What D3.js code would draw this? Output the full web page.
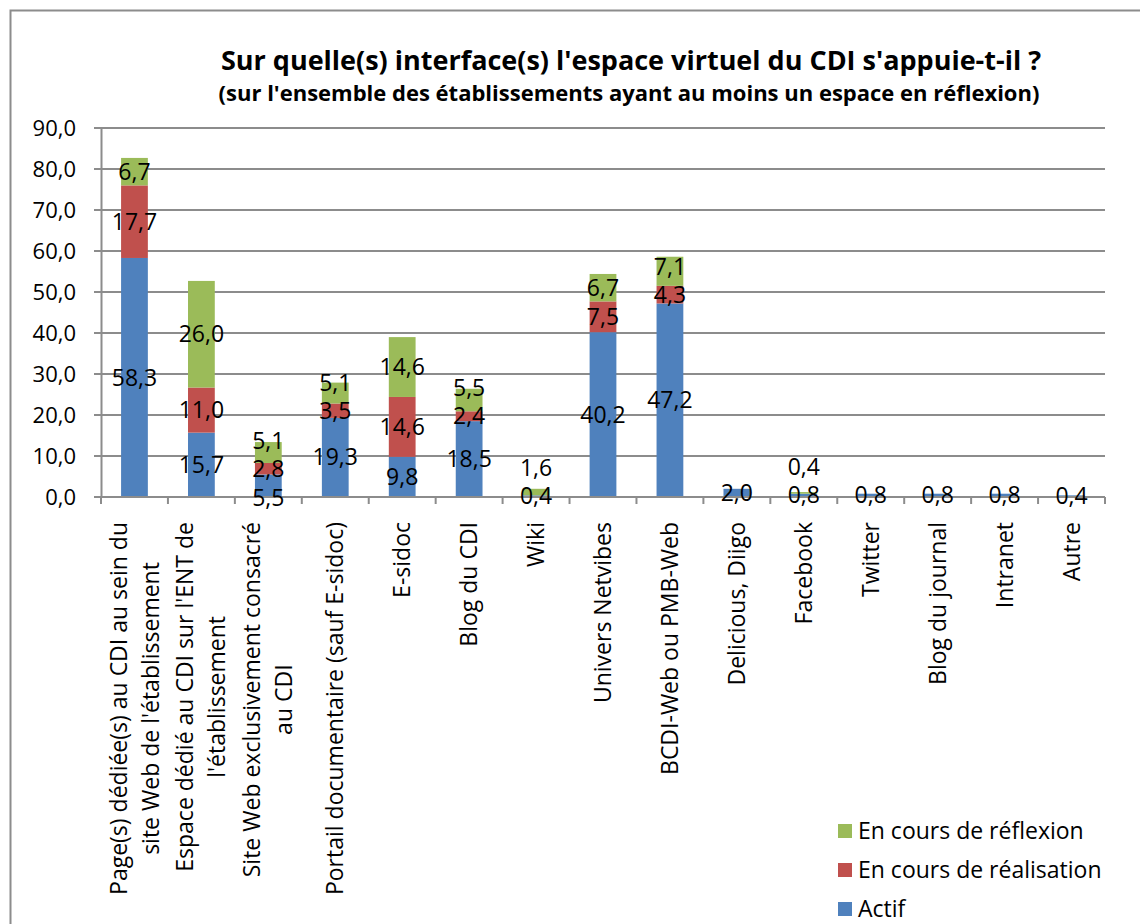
<!DOCTYPE html>
<html>
  <head>
    <meta charset="utf-8">
    <title>interfaces CDI</title>
    <style>
      body { margin: 0; background: #fff; }
      text { font-family: "Open Sans", Lato, sans-serif; fill: #000; }
    </style>
  </head>
  <body>
    <div id="container"></div>
    <script src="https://cdn.jsdelivr.net/npm/d3@7"></script>
    <script>
      // categories (line breaks as in the original axis)
      var categories = [
        ["Page(s) dédiée(s) au CDI au sein du", "site Web de l'établissement"],
        ["Espace dédié au CDI sur l'ENT de", "l'établissement"],
        ["Site Web exclusivement consacré", "au CDI"],
        ["Portail documentaire (sauf E-sidoc)"],
        ["E-sidoc"],
        ["Blog du CDI"],
        ["Wiki"],
        ["Univers Netvibes"],
        ["BCDI-Web ou PMB-Web"],
        ["Delicious, Diigo"],
        ["Facebook"],
        ["Twitter"],
        ["Blog du journal"],
        ["Intranet"],
        ["Autre"]
      ];
      var actif       = [58.3, 15.7, 5.5, 19.3, 9.8, 18.5, 0.4, 40.2, 47.2, 2.0, 0.8, 0.8, 0.8, 0.8, 0.4];
      var realisation = [17.7, 11.0, 2.8, 3.5, 14.6, 2.4, 0, 7.5, 4.3, 0, 0, 0, 0, 0, 0];
      var reflexion   = [6.7, 26.0, 5.1, 5.1, 14.6, 5.5, 1.6, 6.7, 7.1, 0, 0.4, 0, 0, 0, 0];
      var seriesNames = ["Actif", "En cours de réalisation", "En cours de réflexion"];
      var yTicks = [0, 10, 20, 30, 40, 50, 60, 70, 80, 90];

      var colors = ["#4F81BD", "#C0504D", "#9BBB59"];
      var W = 1140, H = 924;
      var mLeft = 101, mRight = 1105, mTop = 128, mBottom = 497;
      var fs = "23px";

      var svg = d3.select("#container").append("svg")
        .attr("width", W).attr("height", H);

      // outer frame
      svg.append("rect")
        .attr("x", 10.5).attr("y", 10.5)
        .attr("width", W + 20).attr("height", H + 20)
        .attr("fill", "none").attr("stroke", "#8c8c8c").attr("stroke-width", 2);

      svg.append("text")
        .attr("x", 631).attr("y", 70)
        .attr("text-anchor", "middle")
        .style("font-size", "27px").style("font-weight", "bold")
        .text("Sur quelle(s) interface(s) l'espace virtuel du CDI s'appuie-t-il ?");
      svg.append("text")
        .attr("x", 629).attr("y", 101)
        .attr("text-anchor", "middle")
        .style("font-size", "22px").style("font-weight", "bold")
        .text("(sur  l'ensemble des établissements ayant au moins un espace en réflexion)");

      var idx = d3.range(categories.length);
      var x = d3.scaleBand().domain(idx).range([mLeft, mRight]).paddingInner(0.6).paddingOuter(0.3);
      var xb = d3.scaleBand().domain(idx).range([mLeft, mRight]);
      var y = d3.scaleLinear().domain([0, 90]).range([mBottom, mTop]);

      // gridlines
      svg.append("g").selectAll("line").data(yTicks).enter().append("line")
        .attr("x1", mLeft - 7).attr("x2", mRight)
        .attr("y1", function(d) { return y(d); }).attr("y2", function(d) { return y(d); })
        .attr("stroke", "#8c8c8c").attr("stroke-width", 2);

      // y axis
      svg.append("g")
        .attr("transform", "translate(" + mLeft + ",0)")
        .call(d3.axisLeft(y).tickValues(yTicks).tickSize(0).tickPadding(25)
          .tickFormat(function(d) { return d3.format(".1f")(d).replace(".", ","); }))
        .call(function(g) { g.select(".domain").attr("stroke", "#8c8c8c").attr("stroke-width", 2); })
        .call(function(g) { g.selectAll("text").style("font-size", "22px").style("font-family", "Open Sans").attr("fill", "#000"); });

      // stacked data
      var rows = idx.map(function(i) {
        return {i: i, a: actif[i], r: realisation[i], f: reflexion[i]};
      });
      var stack = d3.stack().keys(["a", "r", "f"])(rows);

      var layers = svg.append("g").selectAll("g").data(stack).enter().append("g")
        .attr("fill", function(d, k) { return colors[k]; });
      layers.selectAll("rect").data(function(d) { return d; }).enter().append("rect")
        .attr("x", function(d) { return x(d.data.i); })
        .attr("width", x.bandwidth())
        .attr("y", function(d) { return y(d[1]); })
        .attr("height", function(d) { return y(d[0]) - y(d[1]); });

      // x axis with ticks between categories
      svg.append("line")
        .attr("x1", mLeft).attr("x2", mRight).attr("y1", mBottom).attr("y2", mBottom)
        .attr("stroke", "#8c8c8c").attr("stroke-width", 2);
      var bounds = idx.map(function(i) { return xb(i); }).concat([mRight]);
      svg.append("g").selectAll("line").data(bounds).enter().append("line")
        .attr("x1", function(d) { return d; }).attr("x2", function(d) { return d; })
        .attr("y1", mBottom).attr("y2", mBottom + 7)
        .attr("stroke", "#8c8c8c").attr("stroke-width", 2);

      // data labels, centred in segments, nudged up when they collide
      var gap = 28;
      var lab = svg.append("g").style("font-size", fs);
      rows.forEach(function(row) {
        var segs = [];
        stack.forEach(function(layer) {
          var d = layer[row.i];
          var v = d[1] - d[0];
          if (v > 0) segs.push({v: v, cy: y((d[0] + d[1]) / 2)});
        });
        if (segs.length === 3 && segs[0].cy - segs[2].cy < 2 * gap) segs[0].cy += 12;
        for (var k = 1; k < segs.length; k++) {
          if (segs[k - 1].cy - segs[k].cy < gap) segs[k].cy = segs[k - 1].cy - gap;
        }
        segs.forEach(function(s) {
          lab.append("text")
            .attr("x", x(row.i) + x.bandwidth() / 2)
            .attr("y", s.cy)
            .attr("dy", "0.35em")
            .attr("text-anchor", "middle")
            .text(d3.format(".1f")(s.v).replace(".", ","));
        });
      });

      // category labels, rotated, block top at y=522
      var catTop = 522, lineH = 32;
      categories.forEach(function(lines, i) {
        var g = svg.append("g").style("font-size", fs);
        var texts = lines.map(function(t) { return g.append("text").text(t); });
        var maxLen = d3.max(texts, function(t) { return t.node().getComputedTextLength(); });
        var cx = xb(i) + xb.bandwidth() / 2;
        texts.forEach(function(t, j) {
          var lx = cx + (j - (lines.length - 1) / 2) * lineH;
          var ly = catTop + maxLen / 2;
          t.attr("text-anchor", "middle")
            .attr("dy", "0.35em")
            .attr("transform", "translate(" + lx + "," + ly + ") rotate(-90)");
        });
      });

      // legend
      var legend = svg.append("g").style("font-size", fs);
      var order = [2, 1, 0];
      order.forEach(function(k, j) {
        var ly = 831 + j * 39;
        legend.append("rect")
          .attr("x", 838).attr("y", ly - 7).attr("width", 14).attr("height", 14)
          .attr("fill", colors[k]);
        legend.append("text")
          .attr("x", 858).attr("y", ly).attr("dy", "0.35em")
          .text(seriesNames[k]);
      });
    </script>
  </body>
</html>
